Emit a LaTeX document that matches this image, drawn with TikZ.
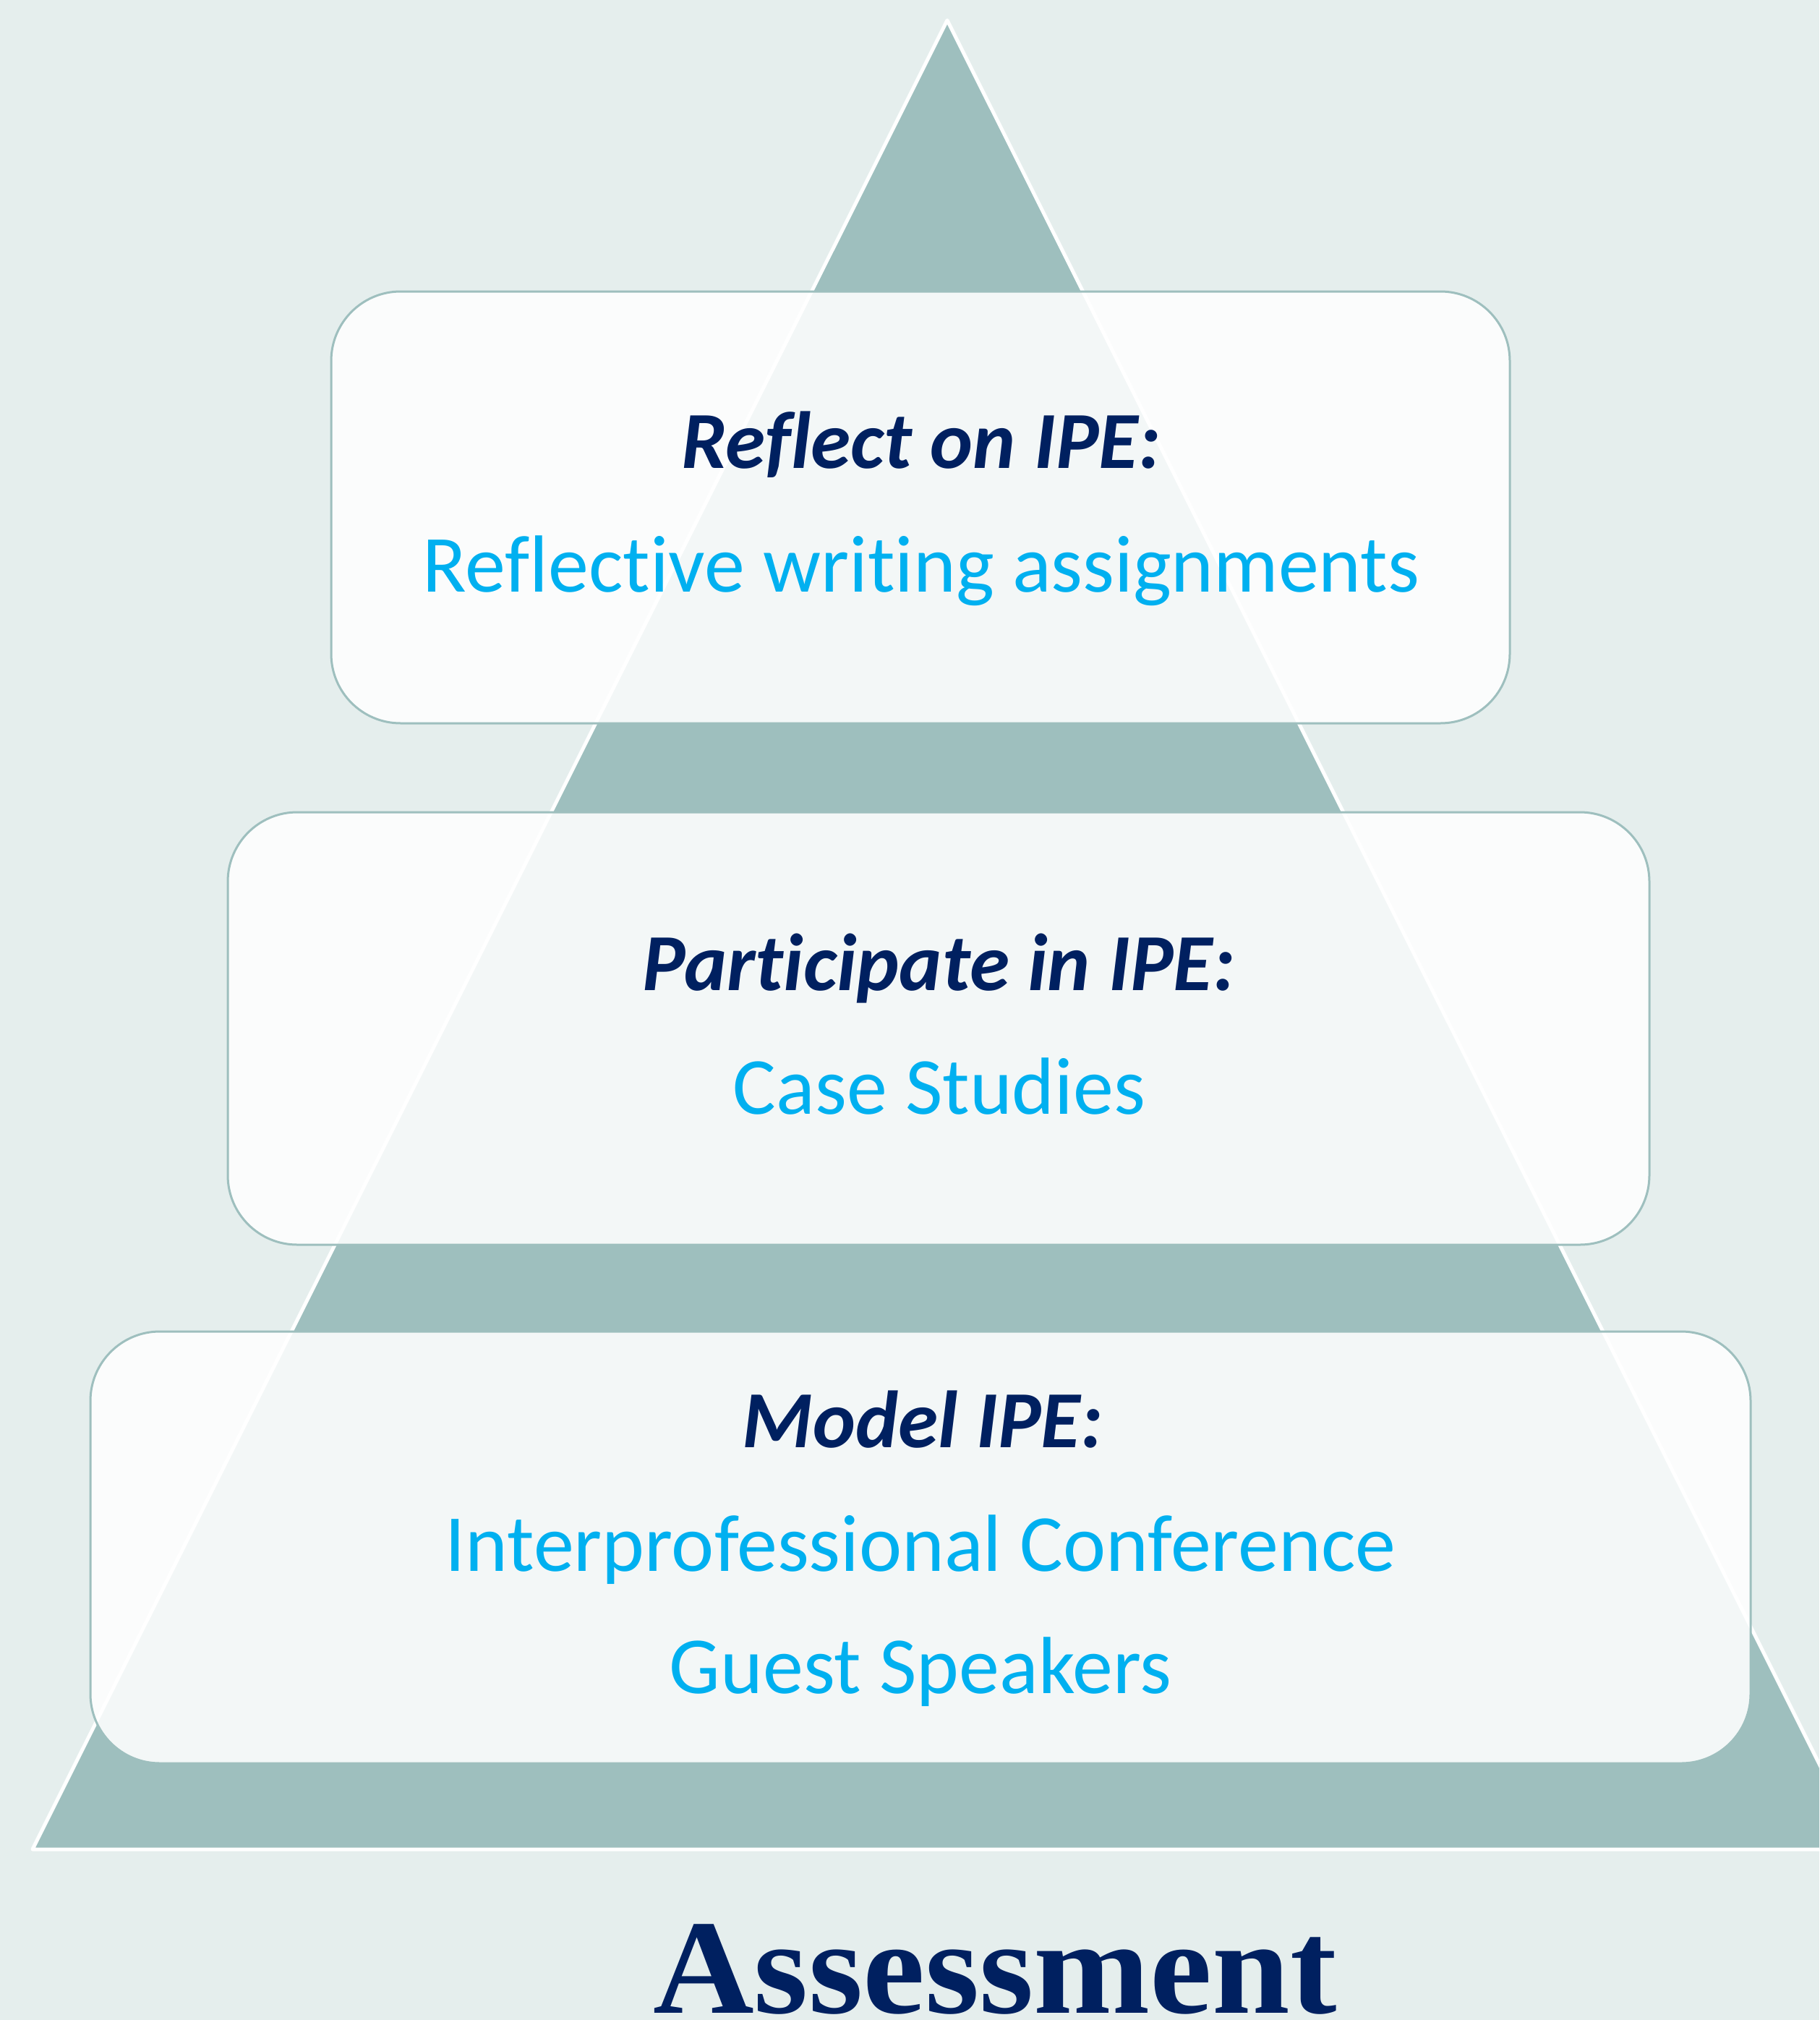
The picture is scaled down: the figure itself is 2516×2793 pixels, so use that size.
\documentclass[tikz,border=0pt]{standalone}
\usepackage{fontspec}
\setmainfont[RawFeature=-liga]{Carlito}
\newfontfamily\assfont{Liberation Serif}
\definecolor{bgc}{HTML}{E5EEED}
\definecolor{tric}{HTML}{9EBFBE}
\definecolor{navy}{HTML}{002060}
\definecolor{skyb}{HTML}{00B0F0}
\tikzset{
  card/.style={draw=tric, line width=3pt*0.25, fill=white, fill opacity=0.88, rounded corners=24pt},
  headtxt/.style={anchor=base, text=navy, font=\fontsize{28pt}{33pt}\selectfont\bfseries\itshape, inner sep=0pt},
  bodytxt/.style={anchor=base, text=skyb, font=\fontsize{28pt}{33pt}\selectfont, inner sep=0pt},
}
\begin{document}
\begin{tikzpicture}[x=0.25pt, y=-0.25pt]
\useasboundingbox (0,0) rectangle (2516,2793);
\clip (0,0) rectangle (2516,2793);
\fill[bgc] (0,0) rectangle (2516,2793);
\draw[fill=tric, draw=white, line width=1.25pt, line join=round] (1310,28) -- (2575,2557) -- (45,2557) -- cycle;
\path[card] (458,403) rectangle (2088,1000);
\path[card] (315,1123) rectangle (2281,1721);
\path[card] (125,1841) rectangle (2421,2438);
\node[headtxt] (h1) at (1274,647) {Reflect on IPE:};
\node[bodytxt] (b1) at (1274,818) {Reflective writing assignments};
\node[headtxt] (h2) at (1298,1369) {Participate in IPE:};
\node[bodytxt] (b2) at (1299,1540) {Case Studies};
\node[headtxt] (h3) at (1276,2001) {Model IPE:};
\node[bodytxt] (b3) at (1273,2172) {Interprofessional Conference};
\node[bodytxt] (b4) at (1273,2341) {Guest Speakers};
\node[anchor=base, inner sep=0pt, text=navy, font=\assfont\fontsize{46.5pt}{50pt}\selectfont\bfseries, xscale=1.04] (ass) at (1376,2783) {Assessment};
\end{tikzpicture}
\end{document}
